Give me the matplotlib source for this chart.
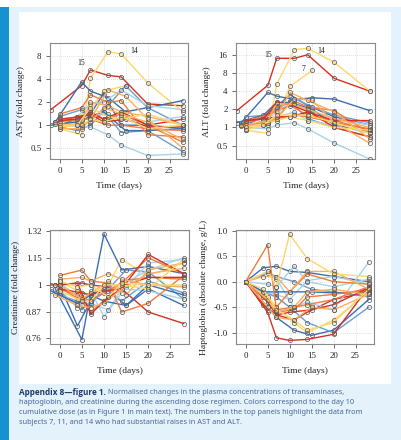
import matplotlib

matplotlib.use("Agg")

import matplotlib.pyplot as plt
from matplotlib.patches import Rectangle
from matplotlib.ticker import FixedLocator, FixedFormatter, NullLocator

# colours by day-10 cumulative dose (RdYlBu-like)
DR, OR, LO, YE = "#d7301f", "#f47a3c", "#fbae5f", "#fdd66a"
LB, MB, DB = "#a8d3ea", "#6b9fd1", "#3a6fb5"

colors = [DR, YE, YE, DB, DB, MB, MB, LB, LB, LB, DB,
          OR, OR, OR, DR, DR, LO, LO, LO, YE, YE]

days = [
    [-2, 5, 7, 11, 14, 20, 28],
    [0, 5, 7, 11, 14, 20, 28],
    [0, 4, 7, 10, 15],
    [-1, 5, 7, 11, 15, 20, 28],
    [0, 4, 7, 10, 14, 20, 28],
    [0, 5, 7, 11, 15, 20, 28],
    [0, 4, 7, 10, 14, 20, 28],
    [0, 5, 7, 11, 14, 20, 28],
    [-1, 4, 7, 10, 14, 20, 28],
    [0, 5, 7, 11, 14, 20, 28],
    [-2, 4, 7, 10, 15, 20, 28],
    [0, 5, 7, 11, 14, 20, 28],
    [0, 4, 7, 10, 14, 20, 28],
    [-1, 5, 7, 11, 14, 20, 28],
    [0, 5, 7, 10, 14, 20, 28],
    [0, 4, 7, 10, 15, 20, 28],
    [0, 5, 7, 11, 14, 20, 28],
    [-1, 4, 7, 10, 14, 20, 28],
    [0, 5, 7, 11, 15, 20, 28],
    [0, 5, 7, 10, 14, 20, 28],
    [0, 4, 7, 11, 14, 20, 28],
]

ast = [
    [1.6, 3.3, 5.3, 4.5, 4.3, 1.9, 1.8],
    [0.9, 0.75, 4.1, 9.2, 8.6, 3.6, 1.5],
    [1.0, 1.3, 1.6, 2.8, 3.3],
    [1.1, 3.7, 2.8, 2.3, 1.5, 1.7, 2.1],
    [1.0, 1.2, 1.4, 2.6, 1.0, 1.0, 0.9],
    [1.3, 1.6, 1.2, 1.8, 3.3, 1.7, 1.0],
    [0.95, 0.85, 1.0, 1.5, 0.8, 0.85, 0.45],
    [1.0, 0.95, 0.95, 0.75, 0.55, 0.4, 0.42],
    [1.1, 1.3, 1.9, 2.0, 2.9, 1.8, 1.6],
    [1.2, 1.1, 1.3, 1.4, 1.2, 1.1, 1.3],
    [1.0, 1.1, 1.3, 1.5, 0.85, 0.85, 0.9],
    [1.4, 1.7, 2.5, 2.0, 2.1, 0.75, 0.7],
    [1.1, 1.3, 1.4, 1.2, 1.4, 1.0, 0.6],
    [1.1, 1.2, 1.2, 1.0, 1.0, 0.9, 0.85],
    [1.2, 1.3, 1.5, 1.2, 1.5, 1.0, 1.2],
    [1.15, 1.2, 1.4, 1.1, 1.2, 0.95, 0.95],
    [1.0, 1.05, 2.0, 1.8, 1.5, 1.3, 1.0],
    [1.05, 1.0, 1.1, 1.7, 1.4, 1.1, 0.65],
    [0.9, 0.9, 1.2, 2.9, 2.4, 1.2, 0.5],
    [1.0, 1.0, 1.2, 1.1, 1.3, 0.9, 1.0],
    [0.95, 1.0, 1.7, 1.3, 1.2, 1.4, 1.0],
]

alt = [
    [1.9, 5.0, 14, 14, 16, 6.5, 4.0],
    [0.9, 0.8, 5.2, 19.5, 20.5, 12, 4.0],
    [1.0, 1.3, 1.5, 4.8, 8.8],
    [1.2, 3.8, 3.3, 2.9, 3.1, 2.95, 1.9],
    [1.1, 1.5, 2.2, 3.5, 2.3, 1.5, 1.1],
    [1.5, 1.6, 2.0, 3.0, 2.2, 1.6, 1.2],
    [1.0, 1.3, 1.4, 2.7, 1.4, 1.0, 0.7],
    [1.0, 0.95, 1.1, 1.2, 0.95, 0.55, 0.3],
    [1.1, 1.2, 1.8, 2.5, 1.9, 1.4, 1.1],
    [1.3, 1.4, 1.5, 1.8, 1.3, 1.1, 0.8],
    [1.2, 1.6, 2.6, 2.6, 2.0, 1.1, 0.85],
    [1.3, 1.6, 2.2, 2.7, 2.2, 1.9, 0.8],
    [1.2, 1.4, 1.9, 2.3, 1.6, 1.3, 0.9],
    [1.1, 1.2, 1.4, 1.6, 1.5, 1.2, 0.95],
    [1.3, 1.4, 1.5, 1.5, 1.8, 1.3, 1.3],
    [1.3, 1.4, 2.6, 2.4, 1.7, 1.0, 0.7],
    [1.1, 1.3, 2.5, 2.4, 2.0, 1.4, 1.0],
    [1.05, 1.1, 1.5, 3.8, 2.8, 1.8, 0.65],
    [0.95, 1.1, 1.4, 3.0, 2.8, 1.2, 0.55],
    [1.0, 1.2, 1.3, 1.5, 1.3, 1.0, 0.9],
    [0.9, 1.1, 1.6, 1.6, 1.6, 1.2, 0.8],
]

creat = [
    [1.0, 1.01, 1.0, 0.99, 0.98, 0.87, 0.82],
    [1.0, 0.92, 0.96, 1.0, 1.14, 1.05, 1.12],
    [1.02, 0.97, 0.95, 0.98, 0.99],
    [0.98, 0.755, 0.96, 0.97, 0.90, 0.98, 0.90],
    [1.0, 0.81, 0.92, 1.30, 1.08, 1.10, 1.06],
    [0.96, 0.88, 0.92, 0.98, 1.08, 1.07, 0.93],
    [0.95, 0.92, 0.90, 0.99, 0.92, 1.02, 0.96],
    [0.95, 0.90, 0.94, 0.98, 1.0, 1.08, 1.15],
    [1.0, 0.89, 0.97, 0.85, 0.96, 1.12, 1.14],
    [1.01, 0.93, 0.91, 0.88, 0.98, 0.97, 0.93],
    [0.97, 0.91, 0.95, 0.92, 0.90, 1.0, 0.95],
    [1.05, 1.08, 1.02, 1.01, 0.87, 0.91, 1.05],
    [0.98, 0.95, 0.92, 0.96, 1.01, 1.15, 1.06],
    [1.0, 0.92, 0.87, 0.94, 1.02, 1.04, 1.03],
    [0.98, 0.96, 0.95, 0.97, 0.98, 1.17, 1.06],
    [1.0, 1.01, 0.86, 0.92, 1.0, 1.04, 1.04],
    [1.03, 1.04, 1.02, 1.06, 1.03, 1.0, 0.99],
    [0.95, 0.90, 0.89, 0.91, 0.98, 1.06, 1.09],
    [1.0, 0.93, 0.96, 1.02, 0.95, 1.08, 1.12],
    [0.97, 0.92, 0.92, 1.0, 1.0, 0.98, 1.14],
    [1.02, 0.99, 1.0, 0.94, 1.01, 1.0, 1.0],
]

hapto = [
    [0, -0.4, -0.65, -0.75, -0.6, -0.35, -0.2],
    [0, -0.3, -0.5, -0.8, -1.0, -0.75, -0.2],
    [0, -0.2, -0.3, -0.5, -0.45],
    [0, -0.5, -0.7, -0.95, -1.05, -0.95, -0.35],
    [0, 0.27, 0.3, 0.2, 0.18, 0.1, 0.0],
    [0, 0.17, 0.1, 0.0, -0.15, -0.2, -0.3],
    [0, -0.2, -0.3, -0.5, -0.8, -1.0, -0.5],
    [0, 0.2, 0.05, -0.5, -0.4, -0.55, 0.38],
    [0, -0.2, -0.25, -0.35, 0.02, 0.1, -0.05],
    [0, -0.05, -0.1, 0.3, 0.0, -0.1, 0.05],
    [0, -0.2, -0.2, -0.2, -0.2, -0.22, -0.2],
    [0, 0.72, -0.55, -0.5, -0.45, -0.35, -0.1],
    [0, -0.3, -0.5, -0.2, 0.15, 0.0, -0.05],
    [0, -0.55, -0.6, -0.55, -0.3, -0.25, -0.15],
    [0, -0.6, -1.1, -1.15, -1.13, -1.03, -0.1],
    [0, -0.45, -0.65, -0.6, -0.55, -0.45, -0.12],
    [0, -0.35, -0.6, -0.5, -0.2, -0.15, -0.25],
    [0, 0.1, 0.1, -0.2, 0.2, 0.2, -0.15],
    [0, -0.5, -0.7, -0.75, -0.5, -0.55, -0.25],
    [0, 0.2, -0.1, 0.93, 0.45, 0.15, 0.1],
    [0, -0.15, -0.55, -0.75, -0.95, -0.8, -0.15],
]

# subject labels in the top panels: (text, day, value)
ast_labels = [("15", 5.0, 6.5), ("14", 17.0, 9.3)]
alt_labels = [("15", 5.0, 16.0), ("14", 17.0, 18.5), ("7", 13.1, 9.4)]

x_ticks = [0, 5, 10, 15, 20, 25]
ast_ticks = [0.5, 1, 2, 4, 8]
alt_ticks = [0.5, 1, 2, 4, 8, 16]
creat_ticks = [0.76, 0.87, 1, 1.15, 1.32]
creat_tick_labels = ["0.76", "0.87", "1", "1.15", "1.32"]
hapto_ticks = [-1.0, -0.5, 0.0, 0.5, 1.0]
hapto_tick_labels = ["-1.0", "-0.5", "0.0", "0.5", "1.0"]

caption_bold = "Appendix 8\u2014figure 1."
caption_lines = [
    " Normalised changes in the plasma concentrations of transaminases,",
    "haptoglobin, and creatinine during the ascending dose regimen. Colors correspond to the day 10",
    "cumulative dose (as in Figure 1 in main text). The numbers in the top panels highlight the data from",
    "subjects 7, 11, and 14 who had substantial raises in AST and ALT.",
]

W, H = 401, 440
SERIF = ["Liberation Serif", "DejaVu Serif"]
plt.rcParams["axes.unicode_minus"] = False

fig = plt.figure(figsize=(W / 100, H / 100), dpi=100, facecolor="white")

# page decoration
fig.patches.append(Rectangle((0, 0), 1, 1 - 7 / H, transform=fig.transFigure,
                             facecolor="#e4f2fb", edgecolor="none", zorder=-3))
fig.patches.append(Rectangle((0, 0), 9 / W, 1 - 7 / H, transform=fig.transFigure,
                             facecolor="#1592cf", edgecolor="none", zorder=-2))
fig.patches.append(Rectangle((19 / W, 1 - 384 / H), 372 / W, 372 / H,
                             transform=fig.transFigure,
                             facecolor="white", edgecolor="none", zorder=-2))


def px_axes(x0, y0, x1, y1):
    return fig.add_axes([x0 / W, 1 - y1 / H, (x1 - x0) / W, (y1 - y0) / H])


def style(ax, yticks, ylabels, ylabel):
    ax.set_xlim(-2.2, 29.2)
    ax.xaxis.set_major_locator(FixedLocator(x_ticks))
    ax.yaxis.set_major_locator(FixedLocator(yticks))
    ax.yaxis.set_major_formatter(FixedFormatter(ylabels))
    ax.yaxis.set_minor_locator(NullLocator())
    ax.xaxis.set_minor_locator(NullLocator())
    ax.grid(True, color="#d4d4d4", linestyle=(0, (1, 1.5)), linewidth=0.6)
    ax.set_axisbelow(True)
    for s in ax.spines.values():
        s.set_color("#8a8a8a")
        s.set_linewidth(0.8)
    ax.tick_params(direction="out", length=2.6, width=0.6, color="#555555",
                   labelsize=6.4, labelcolor="#222222", pad=3.5)
    for lab in ax.get_xticklabels() + ax.get_yticklabels():
        lab.set_family(SERIF)
    ax.set_xlabel("Time (days)", family=SERIF, fontsize=6.8, color="#222222", labelpad=5)
    ax.set_ylabel(ylabel, family=SERIF, fontsize=6.8, color="#222222", labelpad=4)


def draw(ax, values, first_zero=False):
    for c, d, v in zip(colors, days, values):
        dd = [0] + d[1:] if first_zero else d
        ax.plot(dd, v, color=c, lw=1.0, marker="o", ms=3.0, mfc="none",
                mec="#5e5e5e", mew=0.55, zorder=3)


ax1 = px_axes(50, 43.5, 188, 159)
ax1.set_yscale("log", base=2)
draw(ax1, ast)
ax1.set_ylim(0.36, 11.8)
style(ax1, ast_ticks, ["0.5", "1", "2", "4", "8"], "AST (fold change)")
for t, x, y in ast_labels:
    ax1.text(x, y, t, family=SERIF, fontsize=5.6, color="#222222", ha="center", va="center")

ax2 = px_axes(236, 43.5, 375, 159)
ax2.set_yscale("log", base=2)
draw(ax2, alt)
ax2.set_ylim(0.30, 24.6)
style(ax2, alt_ticks, ["0.5", "1", "2", "4", "8", "16"], "ALT (fold change)")
for t, x, y in alt_labels:
    ax2.text(x, y, t, family=SERIF, fontsize=5.6, color="#222222", ha="center", va="center")

ax3 = px_axes(50, 230, 189, 344)
ax3.set_yscale("log")
draw(ax3, creat)
ax3.set_ylim(0.738, 1.327)
style(ax3, creat_ticks, creat_tick_labels, "Creatinine (fold change)")

ax4 = px_axes(236, 230, 374, 344)
draw(ax4, hapto, first_zero=True)
ax4.set_ylim(-1.22, 1.01)
style(ax4, hapto_ticks, hapto_tick_labels, "Haptoglobin (absolute change, g/L)")

# caption
cap_fs = 5.3
line_y = [392, 402.3, 412.6, 422.9]
bold = fig.text(19 / W, 1 - line_y[0] / H, caption_bold, family="Open Sans",
                fontweight="bold", fontsize=5.9, color="#1f3a6b", va="center")
fig.canvas.draw()
bb = bold.get_window_extent(fig.canvas.get_renderer())
fig.text(bb.x1 / W, 1 - line_y[0] / H, caption_lines[0], family="Noto Sans",
         fontsize=cap_fs, color="#4a679a", va="center")
for txt, y in zip(caption_lines[1:], line_y[1:]):
    fig.text(19 / W, 1 - y / H, txt, family="Noto Sans", fontsize=cap_fs,
             color="#4a679a", va="center")

fig.savefig("out.png", dpi=100, facecolor="white")
